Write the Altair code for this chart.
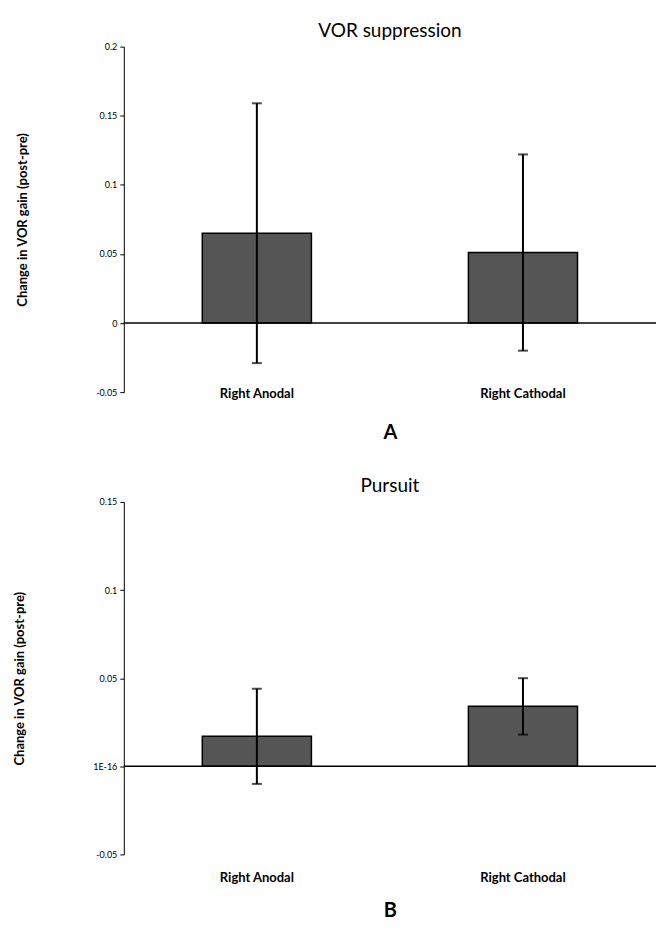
import altair as alt
import pandas as pd

categories = ["Right Anodal", "Right Cathodal"]
vor_mean = [0.065, 0.051]
vor_err = [0.094, 0.071]
pursuit_mean = [0.017, 0.034]
pursuit_err = [0.027, 0.016]

vor_ticks = [-0.05, 0, 0.05, 0.1, 0.15, 0.2]
vor_tick_labels = ["-0.05", "0", "0.05", "0.1", "0.15", "0.2"]
pursuit_ticks = [-0.05, 0, 0.05, 0.1, 0.15]
pursuit_tick_labels = ["-0.05", "1E-16", "0.05", "0.1", "0.15"]

FONT = "Lato"
BAR_FILL = "#555555"


def label_expr(vals, labels):
    v = ",".join(repr(x) for x in vals)
    l = ",".join("'" + s + "'" for s in labels)
    return f"[{l}][indexof([{v}], datum.value)]"


def panel(means, errs, title, letter, ticks, tick_labels, height, label_pad, title_pad):
    df = pd.DataFrame({
        "cat": categories,
        "mean": means,
        "lo": [m - e for m, e in zip(means, errs)],
        "hi": [m + e for m, e in zip(means, errs)],
    })
    x = alt.X(
        "cat:N",
        sort=categories,
        scale=alt.Scale(paddingInner=0.59, paddingOuter=0.295),
        axis=alt.Axis(
            title=letter, domain=False, ticks=False, labelAngle=0,
            labelFontWeight="bold", labelFontSize=13, labelFont=FONT,
            labelBaseline="middle", labelPadding=label_pad,
            titleFontSize=20, titleFontWeight="bold", titleFont=FONT,
            titlePadding=title_pad, labelColor="black", titleColor="black",
        ),
    )
    yscale = alt.Scale(domain=[min(ticks), max(ticks)], nice=False, zero=False)
    y = alt.Y(
        "mean:Q", scale=yscale,
        axis=alt.Axis(
            title="Change in VOR gain (post-pre)", values=ticks,
            labelExpr=label_expr(ticks, tick_labels), grid=False,
            domainColor="black", domainWidth=1, tickColor="black", tickSize=4,
            labelFontSize=9, labelFont=FONT, labelColor="black", labelPadding=3,
            titleFont=FONT, titleFontSize=13, titleFontWeight="bold",
            titleColor="black", titlePadding=66,
        ),
    )
    base = alt.Chart(df)
    bars = base.mark_bar(fill=BAR_FILL, stroke="black", strokeWidth=1.5).encode(x=x, y=y)
    zero = alt.Chart(pd.DataFrame({"z": [0]})).mark_rule(color="black", strokeWidth=1.5).encode(
        y=alt.Y("z:Q", scale=yscale)
    )
    err = base.mark_rule(color="black", strokeWidth=2).encode(
        x=alt.X("cat:N", sort=categories), y=alt.Y("lo:Q", scale=yscale), y2="hi:Q"
    )
    cap_hi = base.mark_tick(color="black", orient="horizontal", size=10, thickness=2).encode(
        x=alt.X("cat:N", sort=categories), y=alt.Y("hi:Q", scale=yscale)
    )
    cap_lo = base.mark_tick(color="black", orient="horizontal", size=10, thickness=2).encode(
        x=alt.X("cat:N", sort=categories), y=alt.Y("lo:Q", scale=yscale)
    )
    return alt.layer(bars, zero, err, cap_hi, cap_lo).properties(
        width=533, height=height,
        title=alt.TitleParams(title, fontSize=19, font=FONT, fontWeight="normal",
                              color="black", anchor="middle", offset=2),
    )


a = panel(vor_mean, vor_err, "VOR suppression", "A", vor_ticks, vor_tick_labels, 346, 1, 22)
b = panel(pursuit_mean, pursuit_err, "Pursuit", "B", pursuit_ticks, pursuit_tick_labels, 353, 23, 16)

chart = alt.vconcat(a, b, spacing=35).properties(
    padding={"left": 5, "right": 0, "top": 13, "bottom": 5}
).configure(font=FONT).configure_view(stroke="transparent", strokeWidth=0)

chart.save("out.html", embed_options={"renderer": "svg", "actions": False})
